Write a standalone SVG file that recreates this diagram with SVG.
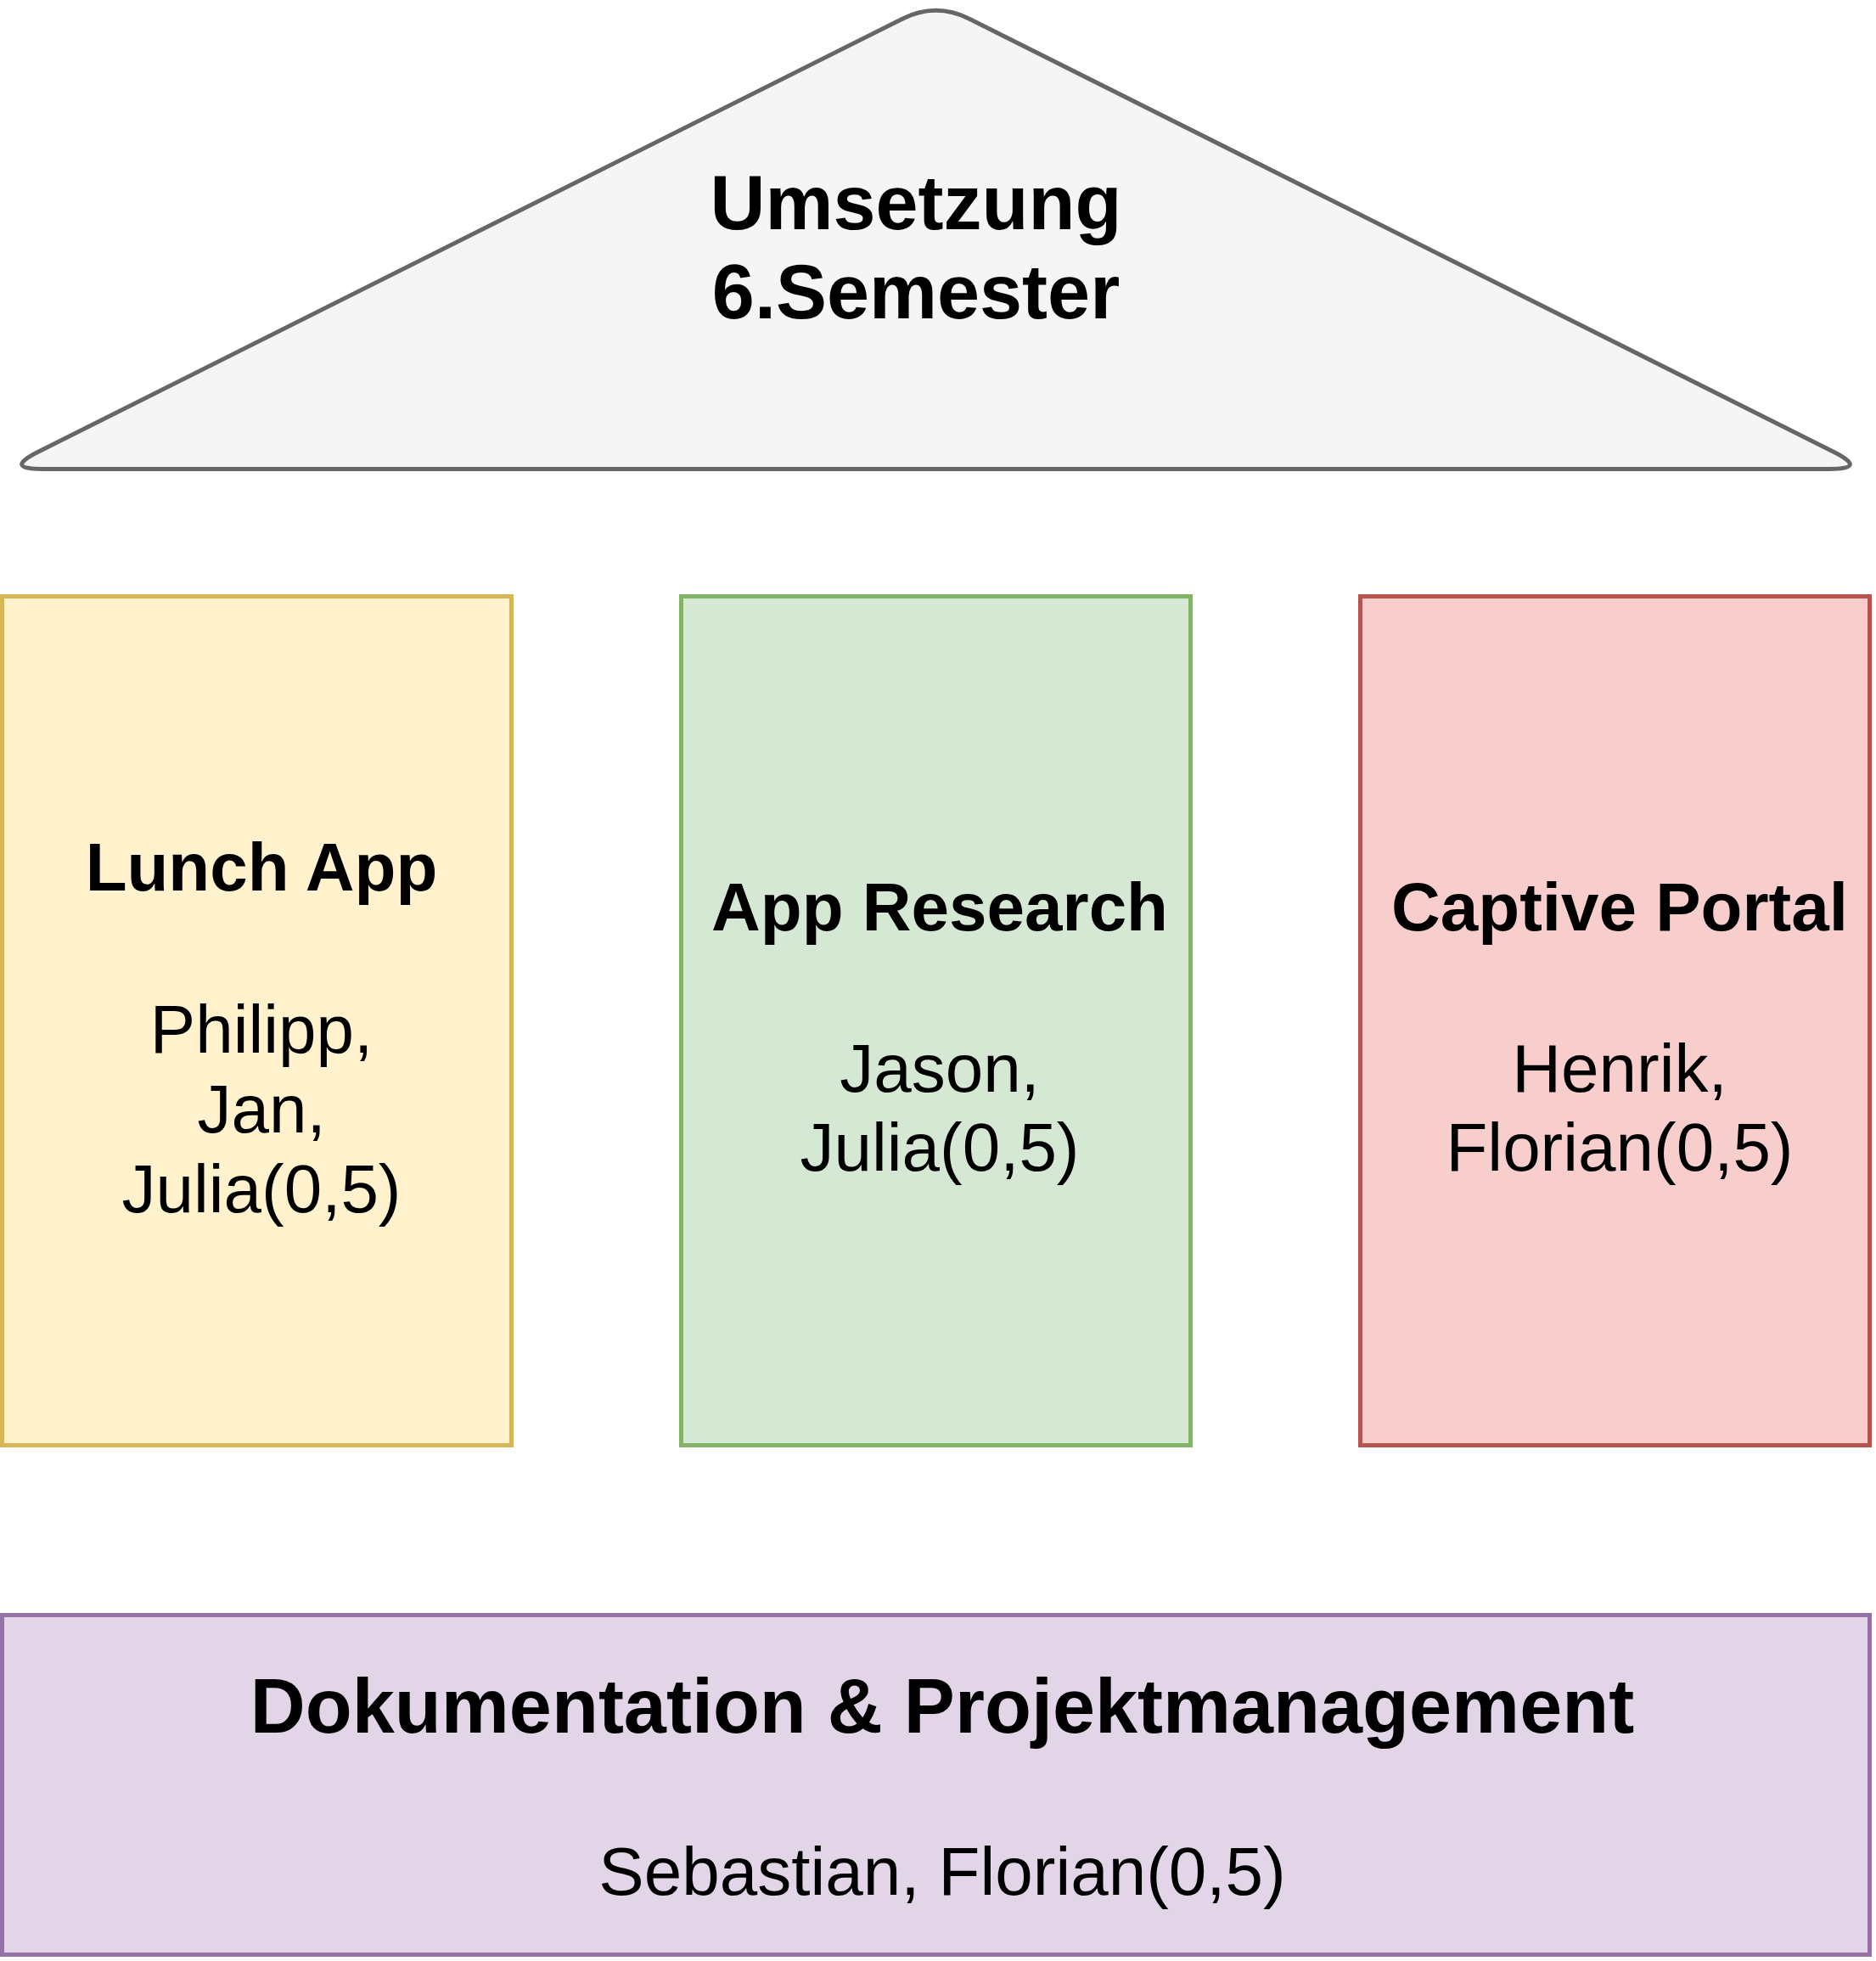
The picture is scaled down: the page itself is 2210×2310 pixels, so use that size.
<svg xmlns="http://www.w3.org/2000/svg" width="2210" height="2310" viewBox="0 0 2210 2310">
<style>
text{font-family:"Liberation Sans",Arial,sans-serif;fill:#000;text-anchor:middle}
.b{font-weight:bold}
.t90{font-size:90px}
.t80{font-size:80px}
.shape{stroke-width:5}
</style>
<rect width="2210" height="2310" fill="#ffffff"/>
<g id="connectors"/>
<g id="roof">
<path class="shape" fill="#f5f5f5" stroke="#666666" d="M 49.5 552.5 L 2155.5 552.5 Q 2200.5 552.5 2160.5 532.5 L 1142 22.2 Q 1102.5 2.5 1063 22.2 L 44.5 532.5 Q 4.5 552.5 49.5 552.5 Z"/>
<text class="b t90" x="1079" y="270">Umsetzung</text>
<text class="b t90" x="1079" y="375">6.Semester</text>
</g>
<g id="lunch">
<rect class="shape" x="2.5" y="702.5" width="600" height="1000" fill="#fff2cc" stroke="#d6b656"/>
<text class="b t80" x="308" y="1049">Lunch App</text>
<text class="t80" x="308" y="1240">Philipp,</text>
<text class="t80" x="308" y="1334">Jan,</text>
<text class="t80" x="308" y="1428">Julia(0,5)</text>
</g>
<g id="research">
<rect class="shape" x="802.5" y="702.5" width="600" height="1000" fill="#d5e8d4" stroke="#82b366"/>
<text class="b t80" x="1107" y="1096">App Research</text>
<text class="t80" x="1107" y="1286">Jason,</text>
<text class="t80" x="1107" y="1379">Julia(0,5)</text>
</g>
<g id="captive">
<rect class="shape" x="1602.5" y="702.5" width="600" height="1000" fill="#f8cecc" stroke="#b85450"/>
<text class="b t80" x="1908" y="1096">Captive Portal</text>
<text class="t80" x="1908" y="1286">Henrik,</text>
<text class="t80" x="1908" y="1379">Florian(0,5)</text>
</g>
<g id="doku">
<rect class="shape" x="2.5" y="1902.5" width="2200" height="400" fill="#e1d5e7" stroke="#9673a6"/>
<text class="b t90" x="1110" y="2041">Dokumentation &amp; Projektmanagement</text>
<text class="t80" x="1110" y="2232">Sebastian, Florian(0,5)</text>
</g>
</svg>
